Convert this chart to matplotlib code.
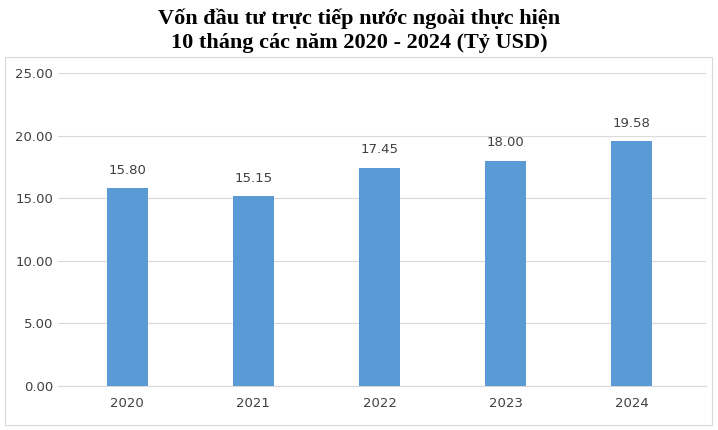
import matplotlib
matplotlib.use("Agg")
import matplotlib.pyplot as plt
from matplotlib.patches import Rectangle

years = ["2020", "2021", "2022", "2023", "2024"]
values = [15.80, 15.15, 17.45, 18.00, 19.58]
yticks = [0, 5, 10, 15, 20, 25]

fig = plt.figure(figsize=(7.18, 4.30), dpi=100)
fig.patches.append(Rectangle((5/718, 5/430), 707/718, 368/430, transform=fig.transFigure,
                             fill=False, edgecolor="#d9d9d9", lw=0.8))
ax = fig.add_axes([58/718, 44/430, 648/718, 313/430])
x = range(len(years))
ax.bar(x, values, width=0.32, color="#5b9bd5", zorder=3)
for xi, v in zip(x, values):
    ax.text(xi, v + 0.9, f"{v:.2f}", ha="center", va="bottom", fontsize=9.5, color="#404040")
ax.set_xlim(-0.55, 4.59)
ax.set_ylim(0, 25)
ax.set_yticks(yticks)
ax.set_yticklabels([f"{t:.2f}" for t in yticks])
ax.set_xticks(list(x))
ax.set_xticklabels(years)
ax.tick_params(length=0, labelsize=9.5, colors="#404040")
ax.tick_params(axis="x", pad=8)
ax.grid(axis="y", color="#d9d9d9", lw=0.8, zorder=0)
for s in ["top", "right", "left"]:
    ax.spines[s].set_visible(False)
ax.spines["bottom"].set_color("#d9d9d9")
fig.text(0.5, 0.928, "Vốn đầu tư trực tiếp nước ngoài thực hiện\n10 tháng các năm 2020 - 2024 (Tỷ USD)",
         ha="center", va="center", fontsize=16, fontweight="bold", family="Liberation Serif",
         linespacing=1.3)
fig.savefig("out.png", dpi=100)
